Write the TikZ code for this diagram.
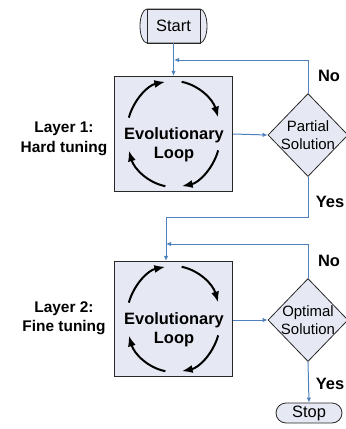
\documentclass[tikz,border=0pt]{standalone}
\usepackage{fontspec}
\setmainfont{Liberation Sans}
\usetikzlibrary{shapes.geometric,shapes.misc,arrows.meta}
\definecolor{boxfill}{RGB}{230,233,243}
\definecolor{linkblue}{RGB}{79,129,189}
\definecolor{edge}{RGB}{40,40,40}
\tikzset{
  loopbox/.style={draw=edge,line width=1.1bp,fill=boxfill,minimum width=118bp,minimum height=115bp,inner sep=0pt},
  looptext/.style={font=\fontsize{16.5}{19}\selectfont\bfseries,align=center,inner sep=0pt},
  decision/.style={draw=edge,line width=0.8bp,fill=boxfill,shape=diamond,inner sep=-3bp,minimum width=80bp,minimum height=83bp,align=center,font=\fontsize{15}{17.5}\selectfont},
  layerlabel/.style={font=\fontsize{15.5}{19.5}\selectfont\bfseries,align=center,inner sep=0pt},
  yesno/.style={font=\fontsize{16.5}{18}\selectfont\bfseries,inner sep=0pt},
  link/.style={draw=linkblue,line width=1bp},
  linkarrow/.style={link,-{Latex[length=5bp,width=4.5bp]}},
  cyc/.style={line width=2bp,black,-{Latex[length=11bp,width=8bp]}},
  termfill/.style={draw=edge,line width=0.8bp,fill=boxfill},
}
\begin{document}
\begin{tikzpicture}[x=1bp,y=-1bp]
\useasboundingbox (0,0) rectangle (346,429);
% Start terminal
\fill[boxfill,draw=edge,line width=0.8bp] (147,9) -- (200,9) arc[start angle=-90,end angle=90,x radius=7,y radius=17] -- (147,43) arc[start angle=90,end angle=270,x radius=7,y radius=17] -- cycle;
\node[draw=edge,line width=0.8bp,minimum width=53bp,minimum height=34bp,inner sep=0pt,font=\fontsize{16.5}{18}\selectfont] (start) at (173.5,26) {Start};
% Layer 1
\node[loopbox] (b1) at (173.5,134) {};
\node[looptext] (b1t) at (174,145) {Evolutionary\\Loop};
\draw[cyc] (b1.center) ++(-162:47 and 53) arc[start angle=-162,end angle=-100,x radius=47,y radius=53];
\draw[cyc] (b1.center) ++(-80:47 and 53) arc[start angle=-80,end angle=-18,x radius=47,y radius=53];
\draw[cyc] (b1.center) ++(18:47 and 53) arc[start angle=18,end angle=80,x radius=47,y radius=53];
\draw[cyc] (b1.center) ++(100:47 and 53) arc[start angle=100,end angle=162,x radius=47,y radius=53];
\node[decision] (d1) at (308,135) {Partial\\Solution};
\node[layerlabel] (l1) at (64,139) {Layer 1:\\Hard tuning};
% Layer 2
\node[loopbox] (b2) at (173.5,319) {};
\node[looptext] (b2t) at (174,330) {Evolutionary\\Loop};
\draw[cyc] (b2.center) ++(-162:47 and 53) arc[start angle=-162,end angle=-100,x radius=47,y radius=53];
\draw[cyc] (b2.center) ++(-80:47 and 53) arc[start angle=-80,end angle=-18,x radius=47,y radius=53];
\draw[cyc] (b2.center) ++(18:47 and 53) arc[start angle=18,end angle=80,x radius=47,y radius=53];
\draw[cyc] (b2.center) ++(100:47 and 53) arc[start angle=100,end angle=162,x radius=47,y radius=53];
\node[decision] (d2) at (308,320) {Optimal\\Solution};
\node[layerlabel] (l2) at (64,318) {Layer 2:\\Fine tuning};
% Stop
\node[termfill,shape=rounded rectangle,minimum width=66bp,minimum height=20bp,inner sep=0pt,font=\fontsize{16.5}{18}\selectfont] (stop) at (309,413) {Stop};
% helper coordinates
\coordinate (j1) at (174,60);
\coordinate (j2) at (166,244);
% connectors
\draw[linkarrow] (start.south) -- (b1.north);
\draw[linkarrow] (b1.east) -- (d1.west);
\draw[linkarrow] (d1.north) |- (j1);
\draw[linkarrow] (d1.south) -- ++(0,41) -| ([xshift=-7.5bp]b2.north);
\draw[linkarrow] (b2.east |- d2.west) -- (d2.west);
\draw[linkarrow] (d2.north) |- (j2);
\draw[linkarrow] (d2.south) -- (stop.north);
% labels
\node[yesno] (no1) at (329,76) {No};
\node[yesno] (yes1) at (330,202) {Yes};
\node[yesno] (no2) at (329,261) {No};
\node[yesno] (yes2) at (330,384) {Yes};
\end{tikzpicture}
\end{document}
